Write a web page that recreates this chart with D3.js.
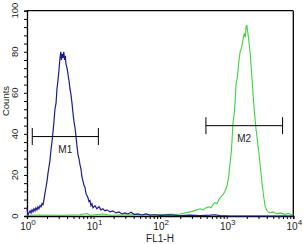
<!DOCTYPE html>
<html>
<head>
<meta charset="utf-8">
<script src="https://cdn.jsdelivr.net/npm/d3@7"></script>
<style>
  body { margin: 0; background: #fff; }
  svg { display: block; font-family: "Liberation Sans", Arial, sans-serif; }
  .axis path, .axis line { stroke: #000; }
</style>
</head>
<body>
<script>
// FL1-H value, counts
const blue = [
  [1.00, 4], [1.03, 0.5], [1.07, 1.5], [1.11, 2.5], [1.15, 1.5], [1.19, 3], [1.23, 2],
  [1.27, 3.5], [1.32, 2.5], [1.36, 4], [1.41, 3], [1.46, 4.5], [1.51, 3.5], [1.57, 5],
  [1.62, 4.5], [1.68, 6], [1.74, 5.5], [1.80, 8], [1.86, 11], [1.93, 14], [2.00, 17],
  [2.07, 21], [2.14, 24], [2.21, 27], [2.29, 32], [2.37, 36], [2.46, 41], [2.54, 46],
  [2.63, 52], [2.73, 55], [2.82, 62], [2.92, 66], [3.02, 71], [3.13, 77], [3.22, 80],
  [3.29, 76], [3.38, 79], [3.47, 77], [3.57, 80], [3.66, 76], [3.76, 78], [3.85, 74],
  [3.99, 72], [4.13, 69], [4.27, 66], [4.42, 62], [4.58, 59], [4.74, 55], [4.91, 50],
  [5.08, 46], [5.26, 43], [5.44, 39], [5.63, 34], [5.83, 30], [6.03, 28], [6.25, 25],
  [6.46, 23], [6.69, 19], [6.93, 17], [7.17, 15], [7.42, 14], [7.68, 11], [7.95, 10],
  [8.23, 9], [8.52, 7], [8.82, 7.5], [9.13, 5], [9.45, 6], [9.78, 4], [10.5, 5],
  [11.2, 3.5], [12.1, 4.5], [12.9, 3], [13.8, 3.5], [14.8, 2.5], [15.9, 3], [17.6, 2],
  [19.5, 2.5], [21.7, 1.5], [24.1, 2], [26.7, 1], [29.6, 1.5], [32.9, 1], [36.5, 1.8],
  [40.5, 0.8], [46.4, 1], [53.3, 0.5], [61.2, 1], [70.3, 0.4], [83.9, 0.6], [99.6, 0.3],
  [140, 0.5], [198, 0.2], [280, 0.4], [395, 0.2], [560, 0.4], [667, 0.6], [792, 0.2],
  [1110, 0], [10000, 0]
];

const green = [
  [1, 0.3], [1.57, 0.5], [3.13, 0.3], [6.25, 0.6], [7.95, 1.2], [8.82, 0.4], [13.8, 1.0],
  [17.6, 0.4], [35.1, 0.6], [70.3, 0.5], [140, 0.8], [198, 1.0], [236, 1.5], [280, 2],
  [322, 2.5], [358, 3], [398, 3.5], [440, 3], [490, 4], [545, 4.5], [580, 4], [620, 5.5],
  [665, 6.5], [715, 6], [765, 8], [825, 9.5], [880, 10.5], [945, 12], [1015, 15],
  [1070, 19], [1117, 25], [1178, 32], [1240, 45], [1310, 51], [1380, 64], [1450, 68],
  [1530, 76], [1590, 80], [1670, 82], [1760, 86], [1830, 89], [1900, 87], [1950, 92],
  [2000, 93], [2060, 90], [2140, 86], [2250, 79], [2360, 70], [2490, 59], [2620, 50],
  [2760, 42], [2910, 36], [3060, 30], [3220, 23], [3390, 16], [3570, 10], [3760, 5],
  [3960, 3], [4170, 2], [4470, 1.5], [4990, 2], [5540, 1], [6370, 1.5], [7330, 0.8],
  [8430, 1.2], [10000, 0.5]
];

// markers: name, from, to, counts level
const markers = [
  ["M1", 1.2, 11.8, 38.7],
  ["M2", 487, 6900, 44]
];

const yMajor = [0, 20, 40, 60, 80, 100];
const xMajor = [1, 10, 100, 1000, 10000];
const xExp = ["0", "1", "2", "3", "4"];

let w = 306, h = 244;
let svg = d3.select('body').append('svg')
  .attr('width', w)
  .attr('height', h);

let x = d3.scaleLog().domain([1, 10000]).range([27, 293.3]);
let y = d3.scaleLinear().domain([0, 100]).range([216, 10.7]);

// minor ticks
let xMinor = [];
xMajor.slice(0, -1).forEach(p => d3.range(1, 10).forEach(k => xMinor.push(p * k)));
xMinor.push(10000);

svg.append('g').attr('class', 'axis')
  .attr('transform', 'translate(0,216)')
  .call(d3.axisBottom(x).tickValues(xMinor).tickSize(3).tickFormat(''))
  .call(g => g.select('.domain').attr('stroke-width', 1.3));

svg.append('g').attr('class', 'axis')
  .attr('transform', 'translate(27,0)')
  .call(d3.axisLeft(y).tickValues(d3.range(0, 101, 4)).tickSize(3).tickFormat(''))
  .call(g => g.select('.domain').attr('stroke-width', 1.3));

// frame top and right
svg.append('line')
  .attr('x1', x(1)).attr('x2', x(10000)).attr('y1', y(100)).attr('y2', y(100))
  .attr('stroke', '#000').attr('stroke-width', 1.3);
svg.append('line')
  .attr('x1', x(10000)).attr('x2', x(10000)).attr('y1', y(100)).attr('y2', y(0))
  .attr('stroke', '#000').attr('stroke-width', 1.3);

// y labels, rotated
svg.selectAll('.ylab')
  .data(yMajor)
  .enter()
    .append('text')
    .attr('transform', d => `translate(18,${y(d)}) rotate(-90)`)
    .attr('text-anchor', 'middle')
    .attr('font-size', 9.5)
    .attr('fill', '#222')
    .text(d => d);

svg.append('text')
  .attr('transform', 'translate(8.5,101) rotate(-90)')
  .attr('text-anchor', 'middle')
  .attr('font-size', 9.5)
  .attr('fill', '#222')
  .text('Counts');

// x labels 10^n
let xl = svg.selectAll('.xlab')
  .data(xMajor)
  .enter()
    .append('text')
    .attr('x', d => x(d) + 1)
    .attr('y', 230)
    .attr('text-anchor', 'middle')
    .attr('font-size', 10)
    .attr('fill', '#222');
xl.append('tspan').text('10');
xl.append('tspan').attr('dy', -5).attr('font-size', 8).text((d, i) => xExp[i]);

svg.append('text')
  .attr('x', 160)
  .attr('y', 242)
  .attr('text-anchor', 'middle')
  .attr('font-size', 10)
  .attr('fill', '#222')
  .text('FL1-H');

// histograms
let line = d3.line().x(d => x(d[0])).y(d => y(d[1]));

svg.append('path')
  .datum(green)
  .attr('d', line)
  .attr('fill', 'none')
  .attr('stroke', '#3fd13f')
  .attr('stroke-width', 1.1);

svg.append('path')
  .datum(blue)
  .attr('d', line)
  .attr('fill', 'none')
  .attr('stroke', '#1c1c8f')
  .attr('stroke-width', 1.2);

// markers
markers.forEach(m => {
  let g = svg.append('g');
  g.append('line')
    .attr('x1', x(m[1])).attr('x2', x(m[2]))
    .attr('y1', y(m[3])).attr('y2', y(m[3]))
    .attr('stroke', '#000');
  [m[1], m[2]].forEach(v => {
    g.append('line')
      .attr('x1', x(v)).attr('x2', x(v))
      .attr('y1', y(m[3]) - 8.5).attr('y2', y(m[3]) + 8.5)
      .attr('stroke', '#000');
  });
  g.append('text')
    .attr('x', x(Math.sqrt(m[1] * m[2])))
    .attr('y', y(m[3]) + 16)
    .attr('text-anchor', 'middle')
    .attr('font-size', 10)
    .attr('fill', '#222')
    .text(m[0]);
});
</script>
</body>
</html>
